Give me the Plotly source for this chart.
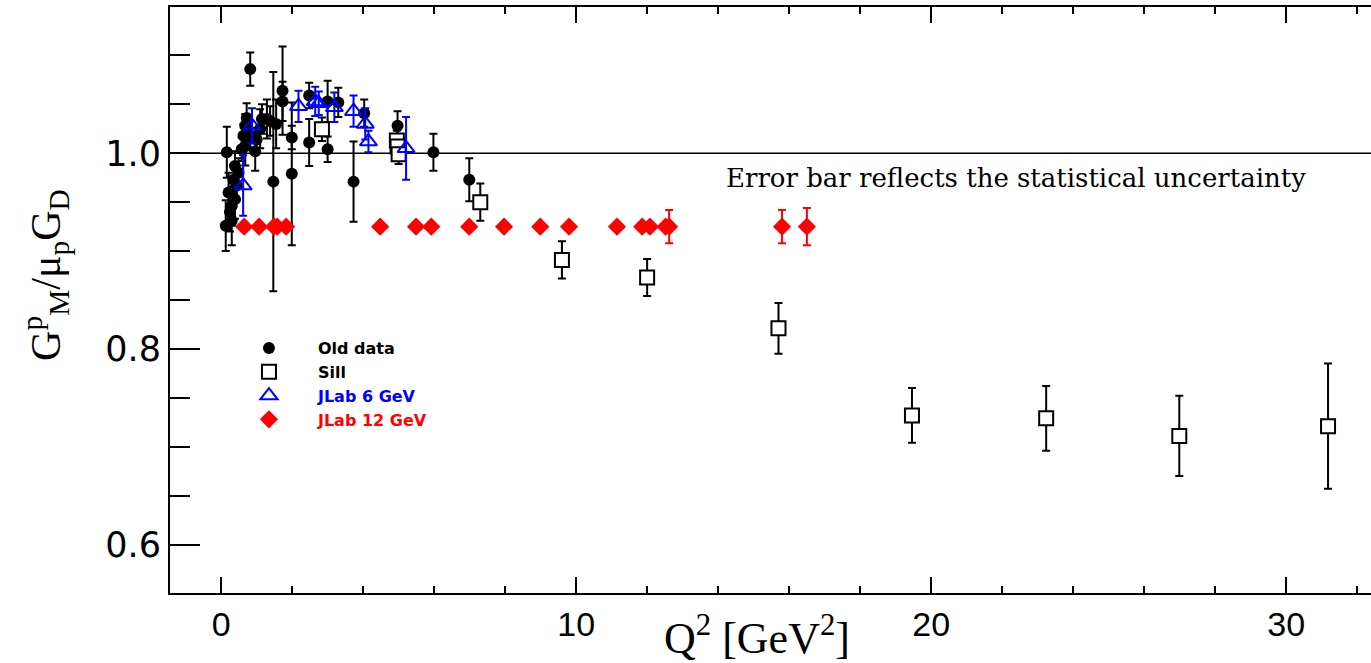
import plotly.graph_objects as go

# ---------------- data ----------------
old_x = [0.13, 0.16, 0.21, 0.25, 0.30, 0.30, 0.35, 0.39, 0.39, 0.44, 0.49, 0.58, 0.63, 0.68, 0.68,
         0.72, 0.82, 0.82, 0.96, 1.00, 1.10, 1.15, 1.29, 1.38, 1.47, 1.55, 1.73, 1.73, 1.99, 1.99,
         2.48, 2.48, 3.00, 3.00, 3.30, 3.73, 4.03, 4.97, 5.98, 6.99]
old_y = [0.926, 1.001, 0.960, 0.940, 0.946, 0.931, 0.973, 0.987, 0.953, 0.967, 0.980, 1.004, 1.018, 1.0075, 1.028,
         1.036, 1.086, 1.018, 1.002, 1.014, 1.025, 1.035, 1.035, 1.033, 0.971, 1.030, 1.064, 1.053, 1.016, 0.979,
         1.059, 1.011, 1.053, 1.004, 1.052, 0.971, 1.041, 1.028, 1.001, 0.973]
old_err = [0.026, 0.026, 0.020, 0.020, 0.020, 0.025, 0.015, 0.015, 0.020, 0.015, 0.015, 0.012, 0.012, 0.020, 0.012,
           0.015, 0.017, 0.015, 0.020, 0.012, 0.020, 0.015, 0.020, 0.015, 0.112, 0.025, 0.045, 0.020, 0.012, 0.073,
           0.013, 0.024, 0.021, 0.013, 0.015, 0.041, 0.014, 0.015, 0.019, 0.022]

sill_x = [2.84, 4.95, 4.97, 5.00, 7.30, 9.60, 12.00, 15.70, 19.46, 23.24, 26.99, 31.18]
sill_y = [1.0245, 1.013, 1.007, 0.999, 0.950, 0.891, 0.873, 0.821, 0.732, 0.729, 0.711, 0.721]
sill_err = [0.012, 0.010, 0.010, 0.010, 0.019, 0.019, 0.019, 0.026, 0.028, 0.033, 0.041, 0.064]

j6_x = [0.62, 0.87, 2.18, 2.65, 2.75, 3.19, 3.73, 4.06, 4.15, 5.21]
j6_y = [0.967, 1.028, 1.048, 1.053, 1.051, 1.047, 1.043, 1.030, 1.012, 1.005]
j6_err = [0.031, 0.018, 0.016, 0.015, 0.012, 0.015, 0.016, 0.016, 0.011, 0.032]

j12_x = [0.65, 1.07, 1.49, 1.58, 1.83, 4.48, 5.49, 5.92, 6.99, 7.97, 8.99, 9.80, 11.15, 11.86, 12.08,
         12.52, 12.62, 15.80, 16.50]
j12_y = [0.925] * 19
j12_err = [0, 0, 0, 0, 0, 0, 0, 0, 0, 0, 0, 0, 0, 0, 0, 0, 0.017, 0.017, 0.019]

x_ticks = [0, 10, 20, 30]
y_ticks = [0.6, 0.8, 1.0]

# ---------------- figure ----------------
fig = go.Figure()

def eb(vals, color):
    return dict(type="data", array=vals, visible=True, color=color, thickness=2, width=4)

fig.add_trace(go.Scatter(x=old_x, y=old_y, mode="markers", name="<b>Old data</b>",
                         marker=dict(symbol="circle", size=12, color="black"),
                         error_y=eb(old_err, "black")))
fig.add_trace(go.Scatter(x=sill_x, y=sill_y, mode="markers", name="<b>Sill</b>",
                         marker=dict(symbol="square", size=14, color="white",
                                     line=dict(color="black", width=2)),
                         error_y=eb(sill_err, "black")))
fig.add_trace(go.Scatter(x=j6_x, y=j6_y, mode="markers",
                         name="<b><span style='color:#0000ff'>JLab 6 GeV</span></b>",
                         marker=dict(symbol="triangle-up-open", size=15, color="#0000ff",
                                     line=dict(color="#0000ff", width=2)),
                         error_y=eb(j6_err, "#0000ff")))
fig.add_trace(go.Scatter(x=j12_x, y=j12_y, mode="markers",
                         name="<b><span style='color:#ff0000'>JLab 12 GeV</span></b>",
                         marker=dict(symbol="diamond", size=14, color="#ff0000"),
                         error_y=eb(j12_err, "#ff0000")))

fig.add_hline(y=1.0, line=dict(color="black", width=1.5), layer="below")

serif = "Liberation Serif, Times New Roman, serif"

fig.add_annotation(x=22.4, y=0.9744, xref="x", yref="y",
                   text="Error bar reflects the statistical uncertainty",
                   showarrow=False, font=dict(family="DejaVu Serif, serif", size=26, color="black"))

# axis titles as annotations (precise placement)
fig.add_annotation(x=-0.104, y=0.543, xref="paper", yref="paper", textangle=-90,
                   xanchor="center", yanchor="middle",
                   text="G<sup>p</sup><sub>M</sub>/μ<sub>p</sub>G<sub>D</sub>",
                   showarrow=False, font=dict(family=serif, size=42, color="black"))
fig.add_annotation(x=0.489, y=-0.073, xref="paper", yref="paper",
                   xanchor="center", yanchor="middle",
                   text="Q<sup>2</sup> [GeV<sup>2</sup>]",
                   showarrow=False, font=dict(family=serif, size=44, color="black"))

fig.update_layout(
    width=1371, height=663,
    margin=dict(l=170, r=0, t=7, b=70),
    paper_bgcolor="white", plot_bgcolor="white",
    showlegend=True,
    legend=dict(x=0.0416, y=0.447, xanchor="left", yanchor="top",
                font=dict(family="DejaVu Sans, sans-serif", size=16, color="black"),
                bgcolor="rgba(0,0,0,0)", tracegroupgap=0, itemwidth=88),
    xaxis=dict(range=[-1.44, 32.39], tickvals=x_ticks, ticks="inside", ticklen=16, tickwidth=1.5,
               tickcolor="black", showline=True, linecolor="black", linewidth=2, mirror="ticks",
               showgrid=False, zeroline=False,
               minor=dict(dtick=2, ticks="inside", ticklen=7, tickwidth=1.5, tickcolor="black"),
               tickfont=dict(family="Liberation Sans Narrow, Arial Narrow, Liberation Sans, sans-serif",
                             size=34, color="black")),
    yaxis=dict(range=[0.5505, 1.1495], tickvals=y_ticks, ticktext=["0.6", "0.8", "1.0"],
               ticks="inside", ticklen=30, tickwidth=1.5,
               tickcolor="black", showline=True, linecolor="black", linewidth=2, mirror=False,
               showgrid=False, zeroline=False,
               minor=dict(dtick=0.05, tick0=0.6, ticks="inside", ticklen=20, tickwidth=1.5,
                          tickcolor="black"),
               tickfont=dict(family="DejaVu Sans, sans-serif", size=35, color="black")),
    yaxis2=dict(range=[0.5505, 1.1495], overlaying="y", side="right", showline=False,
                showticklabels=False, tickvals=y_ticks, ticks="inside", ticklen=24, tickwidth=1.5,
                tickcolor="black", showgrid=False, zeroline=False,
                minor=dict(dtick=0.05, tick0=0.6, ticks="inside", ticklen=6, tickwidth=1.5,
                           tickcolor="black")),
)

fig.write_html("out.html")
